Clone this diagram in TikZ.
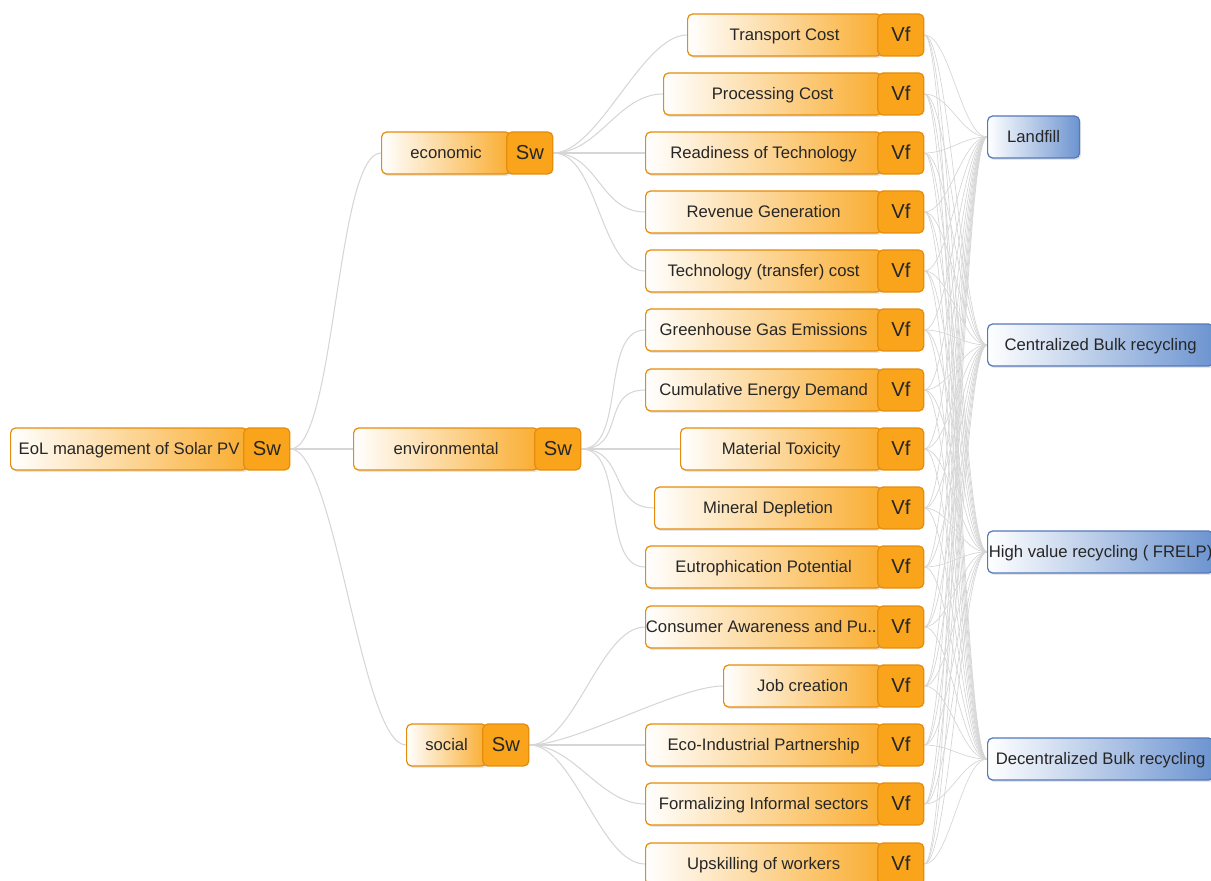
\documentclass[tikz,border=0pt]{standalone}
\usepackage{fontspec}
\setmainfont{Liberation Sans}
\usepackage{xcolor}
\definecolor{crit-orange}{RGB}{249,164,26}
\definecolor{crit-border}{RGB}{230,140,12}
\definecolor{alt-blue}{RGB}{108,148,208}
\definecolor{alt-border}{RGB}{84,120,186}
\definecolor{link-gray}{RGB}{214,214,214}
\usepackage{tikz}
\usetikzlibrary{backgrounds,shadows}
\tikzset{
	crit/.style={anchor=west,draw=crit-border,line width=.7pt,rounded corners=.1cm,
		left color=white,right color=crit-orange!90,minimum height=.84cm,inner sep=0pt,
		text height=1.5ex,text depth=.3ex,
		font=\fontsize{9.5}{11}\selectfont,text=black!85,
		drop shadow={shadow xshift=.03cm,shadow yshift=-.04cm,opacity=.2}},
	tagbox/.style={anchor=west,draw=crit-border,line width=.7pt,rounded corners=.1cm,
		fill=crit-orange,minimum height=.84cm,minimum width=.92cm,inner sep=0pt,
		text height=1.3ex,text depth=0ex,
		font=\fontsize{11.5}{13}\selectfont,text=black!85},
	alt/.style={anchor=west,draw=alt-border,line width=.7pt,rounded corners=.1cm,
		left color=white,right color=alt-blue,minimum height=.84cm,inner sep=0pt,
		text height=1.5ex,text depth=.3ex,
		font=\fontsize{9.5}{11}\selectfont,text=black!85,
		drop shadow={shadow xshift=.03cm,shadow yshift=-.04cm,opacity=.2}},
	link/.style={link-gray,line width=.6pt}
}
% name, left edge, tag edge, y, text, tag
\newcommand*\critbox[6]{
	\node[crit,minimum width={(#3+5-#2)*.02cm}] (#1) at (#2,#4) {#5};
	\node[tagbox,xshift=-.1cm] (#1-t) at (#1.east) {#6};
}

\begin{document}
\begin{tikzpicture}[x=.02cm,y=-.02cm]
	\useasboundingbox (0,0) rectangle (1211,881);
	\clip (0,0) rectangle (1211,881);
	
	\critbox{root}{10}{242}{449}{EoL management of Solar PV}{Sw}
	\critbox{econ}{381}{505}{153}{economic}{Sw}
	\critbox{envi}{353}{533}{449}{environmental}{Sw}
	\critbox{soci}{406}{481}{745}{social}{Sw}
	
	\critbox{trans}{687}{876}{35}{Transport Cost}{Vf}
	\critbox{proc}{663}{876}{94}{Processing Cost}{Vf}
	\critbox{ready}{645}{876}{153}{Readiness of Technology}{Vf}
	\critbox{rev}{645}{876}{212}{Revenue Generation}{Vf}
	\critbox{techc}{645}{876}{271}{Technology (transfer) cost}{Vf}
	\critbox{ghg}{645}{876}{330}{Greenhouse Gas Emissions}{Vf}
	\critbox{ced}{645}{876}{390}{Cumulative Energy Demand}{Vf}
	\critbox{tox}{680}{876}{449}{Material Toxicity}{Vf}
	\critbox{mindep}{654}{876}{508}{Mineral Depletion}{Vf}
	\critbox{eutro}{645}{876}{567}{Eutrophication Potential}{Vf}
	\critbox{aware}{645}{876}{627}{Consumer Awareness and Pu...}{Vf}
	\critbox{jobs}{723}{876}{686}{Job creation}{Vf}
	\critbox{ecoind}{645}{876}{745}{Eco-Industrial Partnership}{Vf}
	\critbox{informal}{645}{876}{804}{Formalizing Informal sectors}{Vf}
	\critbox{upskill}{645}{876}{864}{Upskilling of workers}{Vf}
	
	\node[alt,minimum width=1.84cm] (landfill) at (987,137) {Landfill};
	\node[alt,minimum width=4.52cm] (central) at (987,345) {Centralized Bulk recycling};
	\node[alt,minimum width=4.52cm] (highval) at (987,552) {High value recycling ( FRELP)};
	\node[alt,minimum width=4.52cm] (decentral) at (987,759) {Decentralized Bulk recycling};
	
	\begin{scope}[on background layer]
		\foreach \c in {econ,envi,soci}
			\draw[link] (root-t.east) .. controls +(45,0) and +(-45,0) .. (\c.west);
		\foreach \l in {trans,proc,ready,rev,techc}
			\draw[link] (econ-t.east) .. controls +(45,0) and +(-45,0) .. (\l.west);
		\foreach \l in {ghg,ced,tox,mindep,eutro}
			\draw[link] (envi-t.east) .. controls +(45,0) and +(-45,0) .. (\l.west);
		\foreach \l in {aware,jobs,ecoind,informal,upskill}
			\draw[link] (soci-t.east) .. controls +(45,0) and +(-45,0) .. (\l.west);
		\foreach \l in {trans,proc,ready,rev,techc,ghg,ced,tox,mindep,eutro,
			aware,jobs,ecoind,informal,upskill}
			\foreach \a in {landfill,central,highval,decentral}
				\draw[link,line width=.4pt] (\l-t.east) .. controls +(25,0) and +(-25,0) .. (\a.west);
	\end{scope}
\end{tikzpicture}
\end{document}
